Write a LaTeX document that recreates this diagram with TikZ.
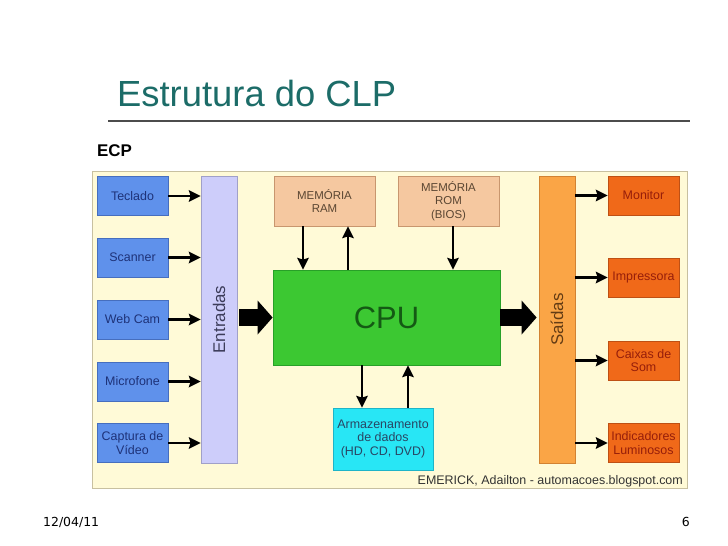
\documentclass[tikz,border=0pt]{standalone}
\usepackage{fontspec}
\setmainfont{Liberation Sans}
\newfontfamily\footfont{DejaVu Sans}
\usetikzlibrary{arrows.meta,calc,positioning}

\definecolor{titleteal}{RGB}{28,108,104}
\definecolor{cream}{RGB}{255,250,215}
\definecolor{creamline}{RGB}{200,192,160}
\definecolor{inblue}{RGB}{95,145,235}
\definecolor{inborder}{RGB}{70,110,190}
\definecolor{intext}{RGB}{30,50,120}
\definecolor{lavender}{RGB}{205,205,250}
\definecolor{lavborder}{RGB}{160,160,200}
\definecolor{lavtext}{RGB}{60,60,90}
\definecolor{peach}{RGB}{245,200,160}
\definecolor{peachborder}{RGB}{200,150,110}
\definecolor{peachtext}{RGB}{90,70,50}
\definecolor{cpugreen}{RGB}{60,200,50}
\definecolor{cpuborder}{RGB}{40,160,40}
\definecolor{cputext}{RGB}{20,90,20}
\definecolor{armcyan}{RGB}{40,230,245}
\definecolor{armborder}{RGB}{30,180,200}
\definecolor{armtext}{RGB}{40,70,100}
\definecolor{barorange}{RGB}{250,165,70}
\definecolor{barborder}{RGB}{210,130,50}
\definecolor{bartext}{RGB}{100,60,20}
\definecolor{outorange}{RGB}{240,105,25}
\definecolor{outborder}{RGB}{190,80,20}
\definecolor{outtext}{RGB}{150,30,10}

\tikzset{
  box/.style={draw, line width=0.8bp, minimum width=71bp, minimum height=39bp,
    inner sep=1bp, align=center, font=\fontsize{12.5}{13.5}\selectfont},
  inbox/.style={box, draw=inborder, fill=inblue, text=intext},
  outbox/.style={box, draw=outborder, fill=outorange, text=outtext},
  membox/.style={box, draw=peachborder, fill=peach, text=peachtext,
    minimum width=101bp, minimum height=50bp, font=\fontsize{11.5}{13.3}\selectfont},
  bar/.style={draw, line width=0.8bp, minimum width=36bp,
    minimum height=287bp, inner sep=0, font=\fontsize{17}{17}\selectfont},
  conn/.style={->, line width=2.4bp},
  bigarrow/.style={line width=17bp, -{Triangle[length=15bp,width=34bp,line width=0pt]}},
  >={Stealth[length=12bp,width=12bp,inset=2bp,line width=0pt]}
}

\begin{document}
\begin{tikzpicture}[x=1bp,y=-1bp]
  \useasboundingbox (0,0) rectangle (728,546);
  % title
  \node[anchor=base west, inner sep=0, text=titleteal, font=\fontsize{36.5}{36.5}\selectfont]
    (title) at (117,107) {Estrutura do CLP};
  \draw[line width=1.2bp, black!70] (108,121) -- (690,121);
  \node[anchor=base west, inner sep=0, font=\fontsize{17}{17}\bfseries\selectfont]
    (ecp) at (97,157) {ECP};
  % diagram
  \draw[creamline, fill=cream, line width=0.8bp] (92,171) rectangle (687,488);
  \node[inbox] (tec) at (132.5,196) {Teclado};
  \node[inbox] (sca) at (132.5,257.5) {Scanner};
  \node[inbox] (web) at (132.5,319.5) {Web Cam};
  \node[inbox] (mic) at (132.5,381.5) {Microfone};
  \node[inbox] (cap) at (132.5,443) {Captura de\\Vídeo};
  \node[bar, draw=lavborder, fill=lavender, text=lavtext] (ent) at (219,319.5)
    {\rotatebox{90}{Entradas}};
  \node[membox] (ram) at (324.5,201) {MEMÓRIA\\RAM};
  \node[membox] (rom) at (448.5,201) {MEMÓRIA\\ROM\\(BIOS)};
  \node[draw=cpuborder, fill=cpugreen, text=cputext, line width=0.8bp,
    minimum width=227bp, minimum height=95bp, font=\fontsize{31}{31}\selectfont]
    (cpu) at (386.5,317.5) {CPU};
  \node[box, draw=armborder, fill=armcyan, text=armtext, minimum width=100bp,
    minimum height=62bp] (arm) at (383,439) {Armazenamento\\de dados\\(HD, CD, DVD)};
  \node[bar, draw=barborder, fill=barorange, text=bartext] (sai) at (557,319.5)
    {\rotatebox{90}{Saídas}};
  \node[outbox] (mon) at (643.5,195.5) {Monitor};
  \node[outbox] (imp) at (643.5,277.5) {Impressora};
  \node[outbox] (cai) at (643.5,360.5) {Caixas de\\Som};
  \node[outbox] (ind) at (643.5,443) {Indicadores\\Luminosos};
  \node[anchor=east, inner sep=0, text=black!80, font=\fontsize{12.5}{12.5}\selectfont]
    (credit) at (683,481) {EMERICK, Adailton - automacoes.blogspot.com};
  % inputs
  \draw[conn] (tec.east) -- (tec.east -| ent.west);
  \draw[conn] (sca.east) -- (sca.east -| ent.west);
  \draw[conn] (web.east) -- (web.east -| ent.west);
  \draw[conn] (mic.east) -- (mic.east -| ent.west);
  \draw[conn] (cap.east) -- (cap.east -| ent.west);
  % outputs
  \draw[conn] (mon.west -| sai.east) -- (mon.west);
  \draw[conn] (imp.west -| sai.east) -- (imp.west);
  \draw[conn] (cai.west -| sai.east) -- (cai.west);
  \draw[conn] (ind.west -| sai.east) -- (ind.west);
  % big arrows
  \draw[bigarrow, shorten <=2bp] (ent.east |- cpu.west) -- (cpu.west);
  \draw[bigarrow, shorten >=2bp] (cpu.east) -- (cpu.east -| sai.west);
  % memory and storage
  \coordinate (ramdn) at ($(ram.south)+(-21.5,0)$);
  \coordinate (ramup) at ($(ram.south)+(23.5,0)$);
  \coordinate (romdn) at ($(rom.south)+(4.5,0)$);
  \coordinate (armdn) at ($(arm.north)+(-21,0)$);
  \coordinate (armup) at ($(arm.north)+(25,0)$);
  \draw[conn] (ramdn) -- (ramdn |- cpu.north);
  \draw[conn] (ramup |- cpu.north) -- (ramup);
  \draw[conn] (romdn) -- (romdn |- cpu.north);
  \draw[conn] (armdn |- cpu.south) -- (armdn);
  \draw[conn] (armup) -- (armup |- cpu.south);
  % footer
  \node[anchor=west, inner sep=0, font=\footfont\fontsize{12.5}{12.5}\selectfont]
    (date) at (43,522) {12/04/11};
  \node[anchor=east, inner sep=0, font=\footfont\fontsize{12.5}{12.5}\selectfont]
    (page) at (690,522) {6};
\end{tikzpicture}
\end{document}
